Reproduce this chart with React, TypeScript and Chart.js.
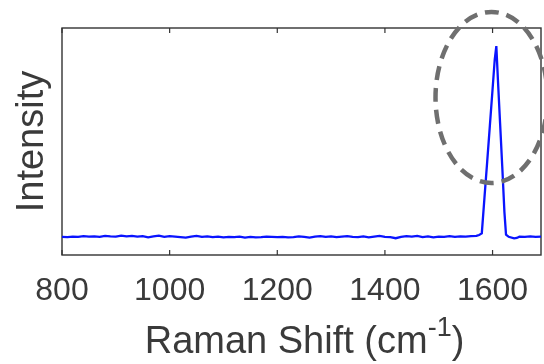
import React, { useEffect, useRef } from "react";
import { Chart, registerables } from "chart.js";

Chart.register(...registerables);

// Raman shift (cm^-1) sample positions
const ramanShift: number[] = [
  800, 810, 820, 830, 840, 850, 860, 870, 880, 890,
  900, 910, 920, 930, 940, 950, 960, 970, 980, 990,
  1000, 1010, 1020, 1030, 1040, 1050, 1060, 1070, 1080, 1090,
  1100, 1110, 1120, 1130, 1140, 1150, 1160, 1170, 1180, 1190,
  1200, 1210, 1220, 1230, 1240, 1250, 1260, 1270, 1280, 1290,
  1300, 1310, 1320, 1330, 1340, 1350, 1360, 1370, 1380, 1390,
  1400, 1410, 1420, 1430, 1440, 1450, 1460, 1470, 1480, 1490,
  1500, 1510, 1520, 1530, 1540, 1550, 1560, 1570, 1575, 1580,
  1585, 1590, 1595, 1600, 1604, 1607, 1610, 1614, 1618, 1622,
  1625, 1630, 1640, 1645, 1650, 1660, 1670, 1680, 1690,
];

// Intensity (arbitrary units)
const intensity: number[] = [
  0.080, 0.079, 0.081, 0.080, 0.083, 0.081, 0.082, 0.080, 0.084, 0.082,
  0.081, 0.085, 0.082, 0.084, 0.081, 0.083, 0.078, 0.082, 0.085, 0.080,
  0.083, 0.081, 0.079, 0.077, 0.081, 0.084, 0.080, 0.082, 0.079, 0.081,
  0.078, 0.080, 0.079, 0.081, 0.077, 0.080, 0.078, 0.079, 0.081, 0.080,
  0.079, 0.080, 0.078, 0.079, 0.082, 0.080, 0.077, 0.081, 0.083, 0.080,
  0.082, 0.079, 0.081, 0.083, 0.080, 0.079, 0.082, 0.078, 0.081, 0.084,
  0.080, 0.079, 0.074, 0.080, 0.083, 0.081, 0.084, 0.079, 0.082, 0.078,
  0.081, 0.080, 0.083, 0.080, 0.082, 0.081, 0.083, 0.084, 0.088, 0.095,
  0.254, 0.410, 0.570, 0.730, 0.860, 0.920, 0.770, 0.580, 0.390, 0.190,
  0.090, 0.080, 0.073, 0.075, 0.081, 0.080, 0.082, 0.080, 0.081,
];

const xTicks: number[] = [800, 1000, 1200, 1400, 1600];
const xMin = 800;
const xMax = 1690;
const yMin = 0;
const yMax = 1;

const xTitleMain = "Raman Shift (cm";
const xTitleSup = "-1";
const xTitleEnd = ")";
const yTitle = "Intensity";

// highlight ellipse annotation (data units)
const highlightCenter = { x: 1598, y: 0.694 };
const highlightRadius = { x: 104, y: 0.377 };

const FONT = '"Liberation Sans", Arial, Helvetica, sans-serif';
const TEXT_COLOR = "#3a3a3a";

const framePlugin = {
  id: "frame",
  beforeDatasetsDraw(chart: any) {
    const { ctx, chartArea: a, scales } = chart;
    ctx.save();
    ctx.strokeStyle = "#333333";
    ctx.lineWidth = 1.4;
    ctx.strokeRect(a.left, a.top, a.right - a.left, a.bottom - a.top);
    ctx.lineWidth = 1.2;
    const tl = 5;
    for (const v of xTicks) {
      const px = scales.x.getPixelForValue(v);
      ctx.beginPath();
      ctx.moveTo(px, a.bottom);
      ctx.lineTo(px, a.bottom - tl);
      ctx.moveTo(px, a.top);
      ctx.lineTo(px, a.top + tl);
      ctx.stroke();
    }
    ctx.restore();
  },
};

const ellipsePlugin = {
  id: "highlightEllipse",
  afterDraw(chart: any) {
    const { ctx, scales } = chart;
    const cx = scales.x.getPixelForValue(highlightCenter.x);
    const cy = scales.y.getPixelForValue(highlightCenter.y);
    const rx = Math.abs(scales.x.getPixelForValue(highlightCenter.x + highlightRadius.x) - cx);
    const ry = Math.abs(scales.y.getPixelForValue(highlightCenter.y + highlightRadius.y) - cy);
    ctx.save();
    ctx.strokeStyle = "#6f6f6f";
    ctx.lineWidth = 4.5;
    ctx.setLineDash([14, 8]);
    ctx.beginPath();
    ctx.ellipse(cx, cy, rx, ry, 0, 0, Math.PI * 2);
    ctx.stroke();
    ctx.restore();
  },
};

const xTitlePlugin = {
  id: "xTitle",
  afterDraw(chart: any) {
    const { ctx, chartArea: a } = chart;
    ctx.save();
    ctx.fillStyle = TEXT_COLOR;
    ctx.textBaseline = "alphabetic";
    ctx.textAlign = "left";
    const mainFont = `38px ${FONT}`;
    const supFont = `27px ${FONT}`;
    ctx.font = mainFont;
    const w1 = ctx.measureText(xTitleMain).width;
    const w3 = ctx.measureText(xTitleEnd).width;
    ctx.font = supFont;
    const w2 = ctx.measureText(xTitleSup).width;
    const total = w1 + w2 + w3;
    const baseY = chart.height - 11;
    let x = (a.left + a.right) / 2 - total / 2 + 3;
    ctx.font = mainFont;
    ctx.fillText(xTitleMain, x, baseY);
    x += w1;
    ctx.font = supFont;
    ctx.fillText(xTitleSup, x, baseY - 17);
    x += w2;
    ctx.font = mainFont;
    ctx.fillText(xTitleEnd, x, baseY);
    ctx.restore();
  },
};

export default function App() {
  const ref = useRef<HTMLCanvasElement>(null);
  useEffect(() => {
    if (!ref.current) return;
    const points = ramanShift.map((x, i) => ({ x, y: intensity[i] }));
    const chart = new Chart(ref.current, {
      type: "line",
      data: {
        datasets: [
          {
            data: points,
            borderColor: "#0a14ff",
            borderWidth: 2.3,
            pointRadius: 0,
            tension: 0,
            fill: false,
          },
        ],
      },
      options: {
        animation: false,
        responsive: false,
        devicePixelRatio: 1,
        layout: { padding: { top: 28, right: 3, left: 0, bottom: 0 } },
        plugins: {
          legend: { display: false },
          tooltip: { enabled: false },
        },
        scales: {
          x: {
            type: "linear",
            min: xMin,
            max: xMax,
            grid: { display: false },
            border: { display: false },
            afterBuildTicks: (s: any) => {
              s.ticks = xTicks.map((v) => ({ value: v }));
            },
            afterFit: (s: any) => {
              s.height = 109;
            },
            ticks: {
              font: { family: FONT, size: 32 },
              color: TEXT_COLOR,
              padding: 9,
              maxRotation: 0,
              autoSkip: false,
              callback: (v: any) => String(v),
            },
            title: { display: false },
          },
          y: {
            type: "linear",
            min: yMin,
            max: yMax,
            grid: { display: false },
            border: { display: false },
            ticks: { display: false },
            afterFit: (s: any) => {
              s.width = 62;
            },
            title: {
              display: true,
              text: yTitle,
              color: TEXT_COLOR,
              font: { family: FONT, size: 38 },
              padding: { top: 10, bottom: 0 },
            },
          },
        },
      },
      plugins: [framePlugin, ellipsePlugin, xTitlePlugin],
    });
    return () => chart.destroy();
  }, []);
  return (
    <div style={{ position: "fixed", left: 0, top: 0, width: 544, height: 364, background: "#fff" }}>
      <canvas ref={ref} width={544} height={364} style={{ width: 544, height: 364 }} />
    </div>
  );
}
